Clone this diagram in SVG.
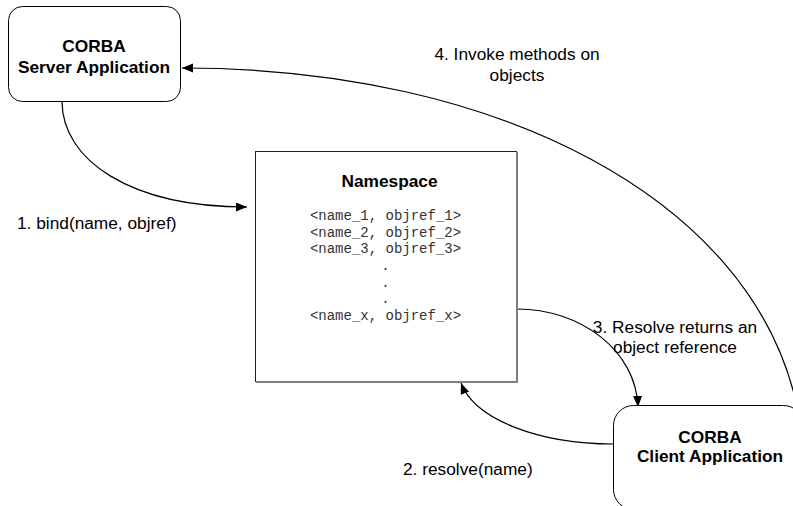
<svg xmlns="http://www.w3.org/2000/svg" width="793" height="506" viewBox="0 0 793 506">
<style>
.box{fill:#fff;stroke:#000;stroke-width:1}
.lbl{font-family:"Liberation Sans",Arial,sans-serif;font-size:17.3px;fill:#000}
.bold{font-family:"Liberation Sans",Arial,sans-serif;font-size:17.3px;font-weight:bold;fill:#000;text-anchor:middle}
.mono{font-family:"Liberation Mono","Courier New",monospace;font-size:14px;fill:#333;text-anchor:middle}
.conn{fill:none;stroke:#000;stroke-width:1.2;marker-end:url(#arr)}
</style>
<defs>
<marker id="arr" markerUnits="userSpaceOnUse" markerWidth="12" markerHeight="10" refX="11" refY="4.5" orient="auto">
<path d="M0,0 L11,4.5 L0,9 z" fill="#000"/>
</marker>
</defs>
<rect width="793" height="506" fill="#fff"/>
<g id="connectors">
<path class="conn" d="M62,101 C62,160 130,207 247,207"/>
<path class="conn" d="M613,444 C540,444 475,420 461,383"/>
<path class="conn" d="M517,309 C580,309 636,350 638,407"/>
<path class="conn" d="M796,402 C750,200 500,68 182,68"/>
</g>
<g id="server">
<rect class="box" x="8.5" y="6.5" width="172" height="95" rx="14"/>
<text class="bold" x="94" y="52">CORBA</text>
<text class="bold" x="94" y="73">Server Application</text>
</g>
<g id="namespace">
<rect class="box" x="255.5" y="151.5" width="261" height="230" style="stroke:#222"/>
<path d="M517,152 L517,382 L256,382" fill="none" stroke="#808080" stroke-width="2"/>
<text class="bold" x="389.5" y="187">Namespace</text>
<text class="mono" x="385.5" y="220">&lt;name_1, objref_1&gt;</text>
<text class="mono" x="385.5" y="237">&lt;name_2, objref_2&gt;</text>
<text class="mono" x="385.5" y="253">&lt;name_3, objref_3&gt;</text>
<text class="mono" x="385.5" y="270">.</text>
<text class="mono" x="385.5" y="287">.</text>
<text class="mono" x="385.5" y="303">.</text>
<text class="mono" x="385.5" y="320">&lt;name_x, objref_x&gt;</text>
</g>
<g id="client">
<rect class="box" x="613.5" y="405.5" width="190" height="104" rx="20"/>
<text class="bold" x="710" y="443">CORBA</text>
<text class="bold" x="710" y="462">Client Application</text>
</g>
<g id="labels">
<text class="lbl" x="17" y="229">1. bind(name, objref)</text>
<text class="lbl" x="403" y="475">2. resolve(name)</text>
<text class="lbl" x="675" y="333" text-anchor="middle">3. Resolve returns an</text>
<text class="lbl" x="675" y="353" text-anchor="middle">object reference</text>
<text class="lbl" x="517" y="60" text-anchor="middle">4. Invoke methods on</text>
<text class="lbl" x="517" y="81" text-anchor="middle">objects</text>
</g>
</svg>
